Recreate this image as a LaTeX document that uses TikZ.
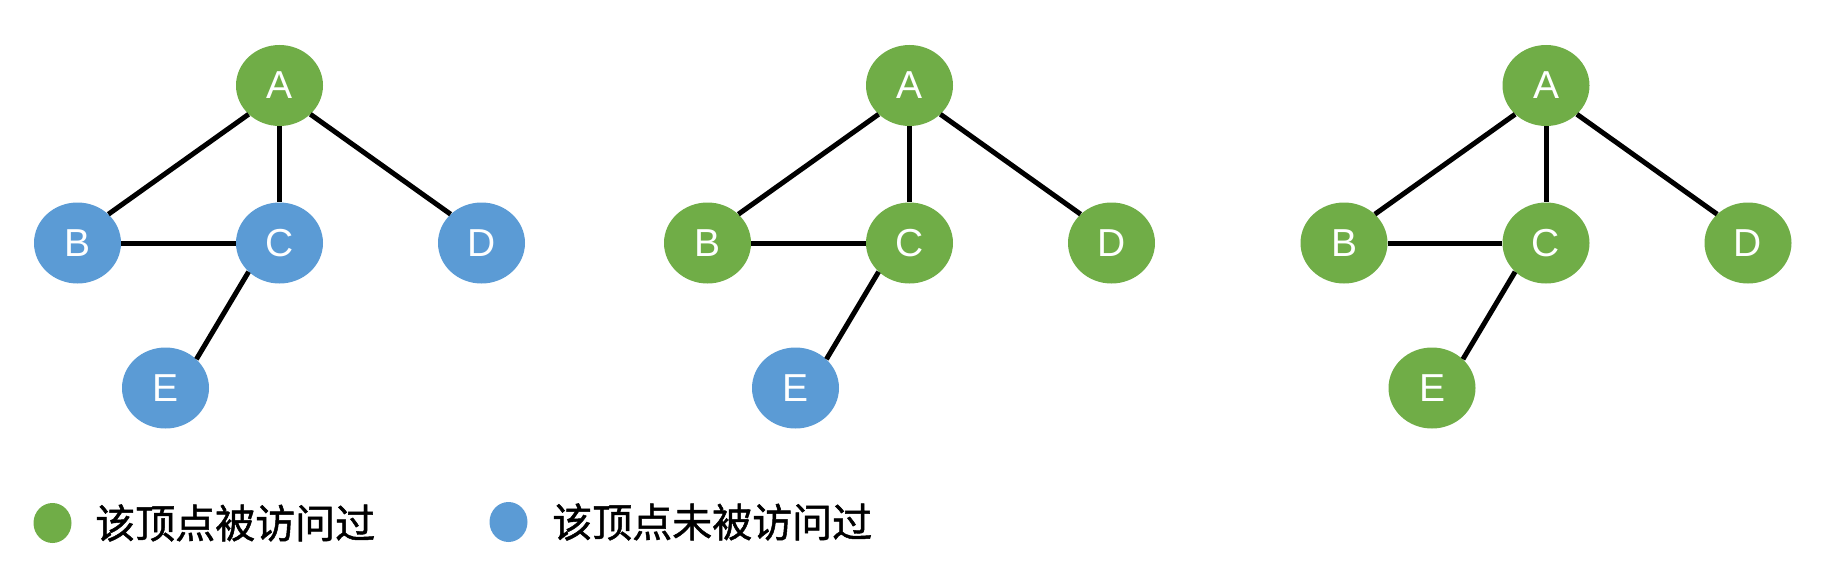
\documentclass[tikz,border=0pt]{standalone}
\usepackage{fontspec}
\setmainfont{Liberation Sans}
\newfontfamily\cjk[FakeBold=1.2]{Noto Sans CJK SC}
\usepackage{tikz}
\usetikzlibrary{shapes.geometric}
\definecolor{visited}{HTML}{70AD47}
\definecolor{unvisited}{HTML}{5B9BD5}

\begin{document}
\begin{tikzpicture}[x=1pt, y=-1pt,
    vertex/.style={ellipse, minimum width=87pt, minimum height=81pt, inner sep=0pt,
        text=white, font=\fontsize{39}{39}\selectfont},
    seen/.style={vertex, fill=visited},
    unseen/.style={vertex, fill=unvisited},
    dot/.style={ellipse, minimum width=38pt, minimum height=40pt, inner sep=0pt},
    edge/.style={line width=5pt, black},
    legend/.style={anchor=west, inner sep=0pt, font=\cjk\fontsize{40}{40}\selectfont}]
    \useasboundingbox (0, 0) rectangle (1832, 586); % page size
    % first step: only A visited
    \node[seen]   (a1) at (279.5, 85.5) {A};
    \node[unseen] (b1) at (77.5, 243) {B};
    \node[unseen] (c1) at (279.5, 243) {C};
    \node[unseen] (d1) at (481.5, 243) {D};
    \node[unseen] (e1) at (165.5, 388) {E};
    % second step: A's neighbours visited
    \node[seen]   (a2) at (909.5, 85.5) {A};
    \node[seen]   (b2) at (707.5, 243) {B};
    \node[seen]   (c2) at (909.5, 243) {C};
    \node[seen]   (d2) at (1111.5, 243) {D};
    \node[unseen] (e2) at (795.5, 388) {E};
    % third step: all visited
    \node[seen] (a3) at (1546, 85.5) {A};
    \node[seen] (b3) at (1344, 243) {B};
    \node[seen] (c3) at (1546, 243) {C};
    \node[seen] (d3) at (1748, 243) {D};
    \node[seen] (e3) at (1432, 388) {E};
    \foreach \g in {1,2,3} {
        \draw[edge] (a\g.south west) -- (b\g.north east);
        \draw[edge] (a\g.south) -- (c\g.north);
        \draw[edge] (a\g.south east) -- (d\g.north west);
        \draw[edge] (b\g.east) -- (c\g.west);
        \draw[edge] (c\g.south west) -- (e\g.north east);
    }
    % legend
    \node[dot, fill=visited]   (key1) at (52.5, 523) {};
    \node[legend] (keytext1) at (95, 523) {该顶点被访问过};
    \node[dot, fill=unvisited] (key2) at (508.5, 522) {};
    \node[legend] (keytext2) at (552, 522) {该顶点未被访问过};
\end{tikzpicture}
\end{document}
